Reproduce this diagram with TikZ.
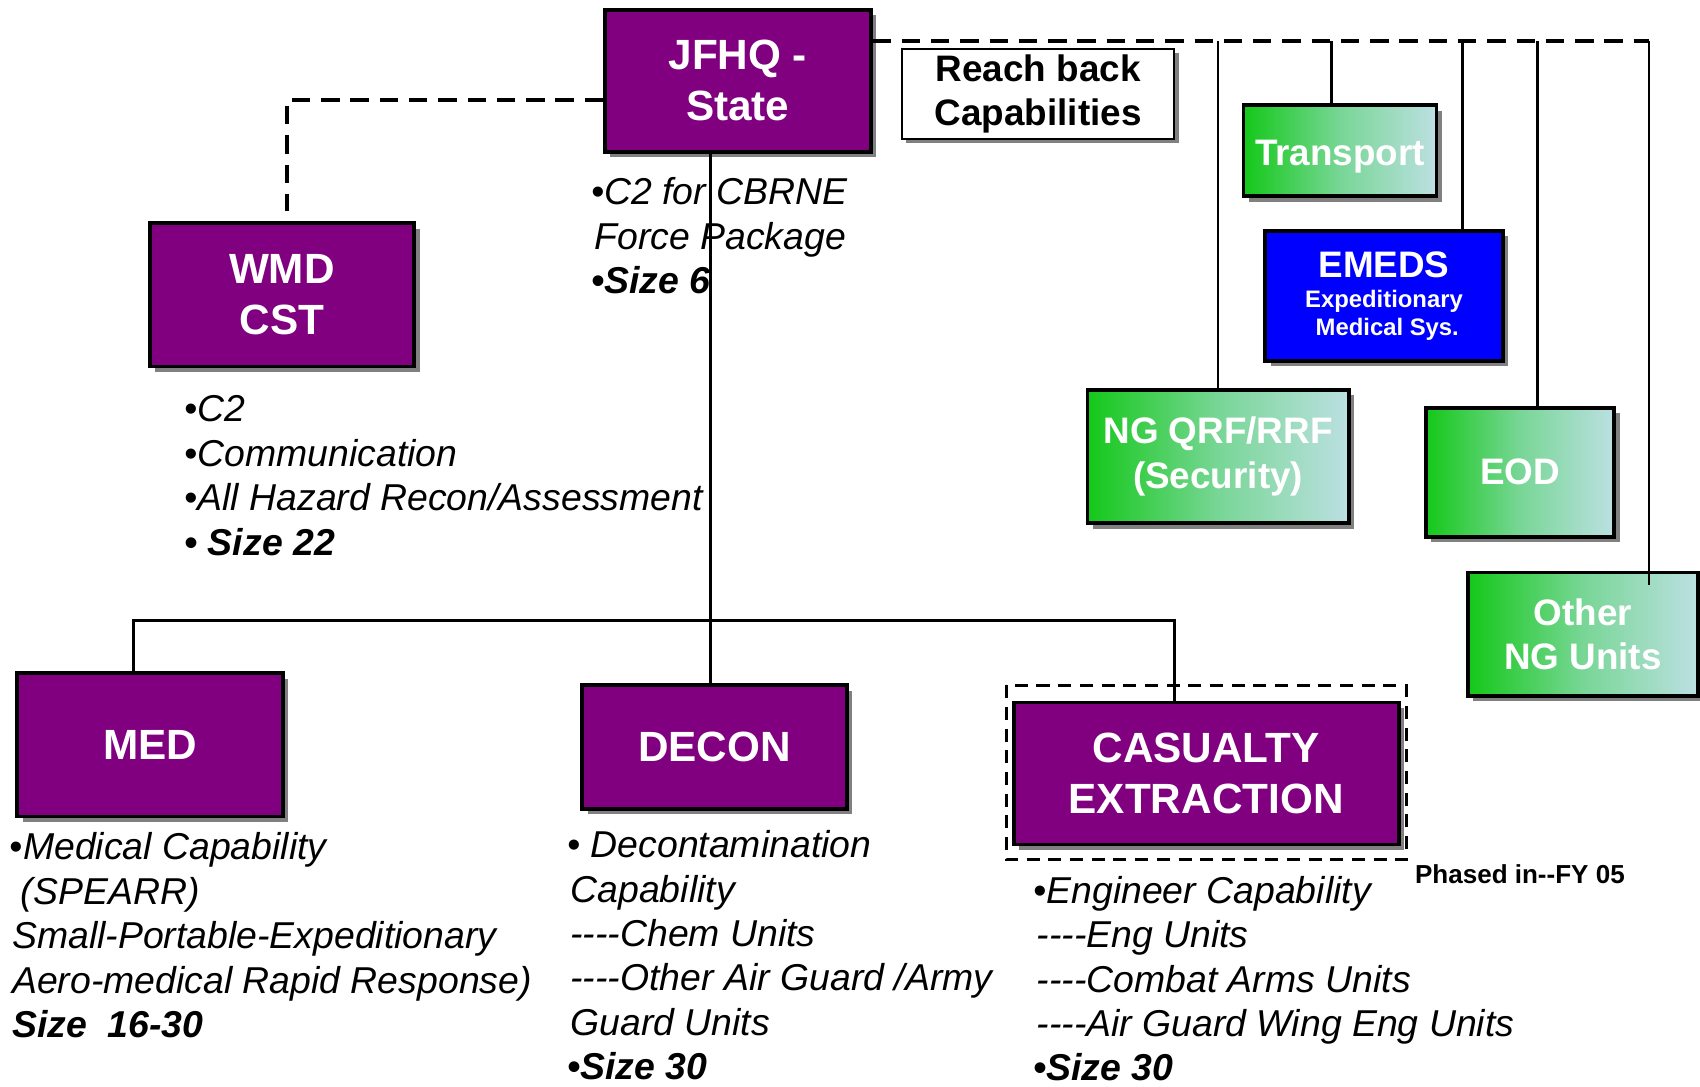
\documentclass[tikz,border=0pt]{standalone}
\usepackage{fontspec}
\setmainfont{Liberation Sans}[Ligatures=TeXOff]
\usetikzlibrary{shadows}
\definecolor{pur}{RGB}{128,0,128}
\definecolor{emblue}{RGB}{0,0,255}
\definecolor{shgray}{RGB}{128,128,128}
\definecolor{grL}{RGB}{20,200,25}
\definecolor{grM}{RGB}{120,214,150}
\definecolor{grR}{RGB}{188,224,226}
\begin{document}
\begin{tikzpicture}[x=1pt,y=-1pt,
  box/.style={draw=black, line width=3.5pt, inner sep=0pt, align=center, text=white,
    general shadow={fill=shgray, shadow xshift=5pt, shadow yshift=-5pt},
    font=\fontsize{34}{41}\selectfont\bfseries},
  pbox/.style={box, fill=pur, font=\fontsize{39}{47}\selectfont\bfseries},
  gbox/.style={box, left color=grL, right color=grR, middle color=grM},
  note/.style={anchor=base west, inner sep=0pt, align=left, font=\fontsize{34.5}{41}\selectfont\itshape},
  conn/.style={line width=2.5pt},
  dconn/.style={line width=3.5pt, dash pattern=on 17pt off 10pt}
]
\useasboundingbox[fill=white] (0,0) rectangle (1568,1002);

% boxes
\node[pbox, minimum width=245, minimum height=131] (jfhq) at (680.5,74.5) {JFHQ -\\State};
\node[draw=black, line width=2pt, fill=white, inner sep=0pt, align=center,
  general shadow={fill=shgray, shadow xshift=4pt, shadow yshift=-4pt},
  font=\fontsize{34}{41}\selectfont\bfseries, minimum width=251, minimum height=83] (reach) at (957.5,86.5) {Reach back\\Capabilities};
\node[pbox, minimum width=244, minimum height=132] (wmd) at (260,272) {WMD\\CST};
\node[gbox, minimum width=178, minimum height=84, text depth=0pt] (trans) at (1236,139) {\raisebox{-3pt}{Transport}};
\node[box, fill=emblue, minimum width=219, minimum height=120] (emeds) at (1276.5,273)
  {\raisebox{-8pt}{EMEDS}\\[-5pt]\fontsize{22}{25}\selectfont Expeditionary\\[-15pt]\fontsize{22}{25}\selectfont\ Medical Sys.};
\node[gbox, minimum width=241, minimum height=123] (qrf) at (1123.5,421) {NG QRF/RRF\\(Security)};
\node[gbox, minimum width=174, minimum height=119] (eod) at (1402,435.5) {EOD};
\node[gbox, minimum width=212, minimum height=114] (other) at (1460,585) {Other\\NG Units};
\node[pbox, minimum width=245, minimum height=132] (med) at (138.5,687) {MED};
\node[pbox, minimum width=244, minimum height=114] (decon) at (659,689) {DECON};
\node[pbox, minimum width=355, minimum height=131] (cas) at (1112.5,713.5) {CASUALTY\\EXTRACTION};
\draw[line width=3pt, dash pattern=on 12pt off 8pt] (928,632) rectangle (1297,793);

% notes (anchor = baseline of the last line)
\node[note] (njfhq) at (545,271) {•C2 for CBRNE\\\hspace*{3pt}Force Package\\\textbf{•Size 6}};
\node[note] (nwmd) at (170,512) {•C2\\•Communication\\•All Hazard Recon/Assessment\\\textbf{• Size 22}};
\node[note] (nmed) at (9,957) {•Medical Capability\\\hspace*{10pt}(SPEARR)\\\hspace*{2pt}Small-Portable-Expeditionary\\\hspace*{2pt}Aero-medical Rapid Response)\\\hspace*{2pt}\textbf{Size\ \ 16-30}};
\node[note] (ndecon) at (523,996) {• Decontamination\\\hspace*{3pt}Capability\\\hspace*{3pt}----Chem Units\\\hspace*{3pt}----Other Air Guard /Army\\\hspace*{3pt}Guard Units\\\textbf{•Size 30}};
\node[note] (ncas) at (953,997) {•Engineer Capability\\\hspace*{3pt}----Eng Units\\\hspace*{3pt}----Combat Arms Units\\\hspace*{3pt}----Air Guard Wing Eng Units\\\textbf{•Size 30}};
\node[anchor=base west, inner sep=0pt, font=\fontsize{24}{28}\selectfont\bfseries] (phased) at (1305,815) {Phased in--FY 05};

% connectors
\coordinate (busR) at (1521,38);
\coordinate (tT) at (1228,38);
\coordinate (tE) at (1349,38);
\coordinate (tO) at (1418,38);
\coordinate (oIn) at (1521,540);
\draw[dconn] (jfhq.east |- busR) -- (busR);
\draw[conn] (qrf.north |- busR) -- (qrf.north);
\draw[conn] (tT) -- (tT |- trans.north);
\draw[conn] (tE) -- (tE |- emeds.north);
\draw[conn] (tO) -- (tO |- eod.north);
\draw[conn] (busR) -- (oIn);

\coordinate (wl) at (265,92);
\coordinate (wle) at (265,195);
\draw[dconn] (jfhq.west |- wl) -- (wl) -- (wle);

\coordinate (jb) at (655,572);
\coordinate (mbL) at (123,572);
\coordinate (mbR) at (1083,572);
\draw[conn] (jb |- jfhq.south) -- (jb);
\draw[conn] (mbL |- med.north) -- (mbL) -- (mbR) -- (mbR |- cas.north);
\draw[conn] (jb) -- (jb |- decon.north);
\end{tikzpicture}
\end{document}
